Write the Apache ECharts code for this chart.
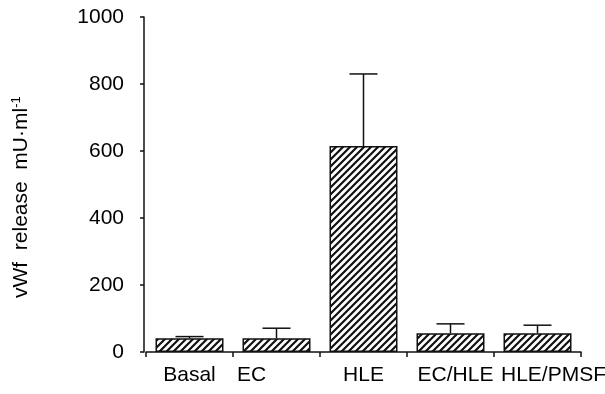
<!DOCTYPE html>
<html>
<head>
<meta charset="utf-8">
<script src="https://cdn.jsdelivr.net/npm/echarts@6/dist/echarts.min.js"></script>
<style>html,body{margin:0;padding:0;background:#fff}#c{width:605px;height:394px}</style>
</head>
<body>
<div id="c"></div>
<script>
const categories = ['Basal', 'EC', 'HLE', 'EC/HLE', 'HLE/PMSF'];
const means = [41, 41, 615, 56, 56];
const errTops = [46, 71, 830, 84, 80];
const yTicks = [0, 200, 400, 600, 800, 1000];
const labelShift = [0, -25, 0, 5, 16];

function hatch() {
  const s = 7, c = document.createElement('canvas');
  c.width = s; c.height = s;
  const g = c.getContext('2d');
  g.fillStyle = '#fff'; g.fillRect(0, 0, s, s);
  g.strokeStyle = '#111'; g.lineWidth = 2.2;
  g.beginPath();
  g.moveTo(-1, s + 1); g.lineTo(s + 1, -1);
  g.moveTo(-2, 2); g.lineTo(2, -2);
  g.moveTo(s - 2, s + 2); g.lineTo(s + 2, s - 2);
  g.stroke();
  return c;
}

const chart = echarts.init(document.getElementById('c'), null, {renderer: 'canvas'});
const font = '"Liberation Sans", Arial, sans-serif';
const fs = 21;
const rich = {};
labelShift.forEach((d, i) => {
  rich['l' + i] = {
    fontFamily: font, fontSize: fs, color: '#000',
    padding: d >= 0 ? [0, 0, 0, 2 * d] : [0, -2 * d, 0, 0]
  };
});
chart.setOption({
  animation: false,
  backgroundColor: '#fff',
  grid: {left: 146, right: 24, top: 17, bottom: 42, outerBoundsMode: 'none', containLabel: false},
  xAxis: {
    type: 'category', data: categories,
    axisLine: {lineStyle: {color: '#111', width: 1.5}},
    axisTick: {show: true, length: 5, lineStyle: {color: '#111', width: 1.5}},
    axisLabel: {
      margin: 13, interval: 0, hideOverlap: false,
      formatter: (v, i) => '{l' + i + '|' + v + '}',
      rich: rich
    }
  },
  yAxis: {
    type: 'value', min: 0, max: 1000, interval: 200, offset: 2,
    axisLine: {show: true, lineStyle: {color: '#111', width: 1.5}},
    axisTick: {show: true, length: 4, lineStyle: {color: '#111', width: 1.5}},
    splitLine: {show: false},
    axisLabel: {margin: 20, fontFamily: font, fontSize: fs, color: '#000',
      formatter: v => yTicks.includes(v) ? String(v) : ''}
  },
  graphic: [{
    type: 'text', x: 21, y: 298, rotation: Math.PI / 2,
    style: {
      text: '{a|vWf  release  mU·ml}{s|-1}',
      align: 'left', verticalAlign: 'middle',
      rich: {
        a: {fontFamily: font, fontSize: fs, fill: '#000'},
        s: {fontFamily: font, fontSize: 13, fill: '#000', verticalAlign: 'top', padding: [0, 0, 9, 0]}
      }
    }
  }],
  series: [{
    type: 'bar', data: means, barWidth: 68,
    itemStyle: {color: {image: hatch(), repeat: 'repeat'}, borderColor: '#111', borderWidth: 1.5},
    z: 2
  }, {
    type: 'custom', z: 3,
    data: categories.map((c, i) => [i, means[i], errTops[i]]),
    renderItem: (params, api) => {
      const base = api.coord([api.value(0), api.value(1)]);
      const top = api.coord([api.value(0), api.value(2)]);
      const x = base[0], hw = 14;
      const st = {stroke: '#111', lineWidth: 1.5};
      return {type: 'group', children: [
        {type: 'line', shape: {x1: x, y1: base[1], x2: x, y2: top[1]}, style: st},
        {type: 'line', shape: {x1: x - hw, y1: top[1], x2: x + hw, y2: top[1]}, style: st}
      ]};
    }
  }]
});
</script>
</body>
</html>
